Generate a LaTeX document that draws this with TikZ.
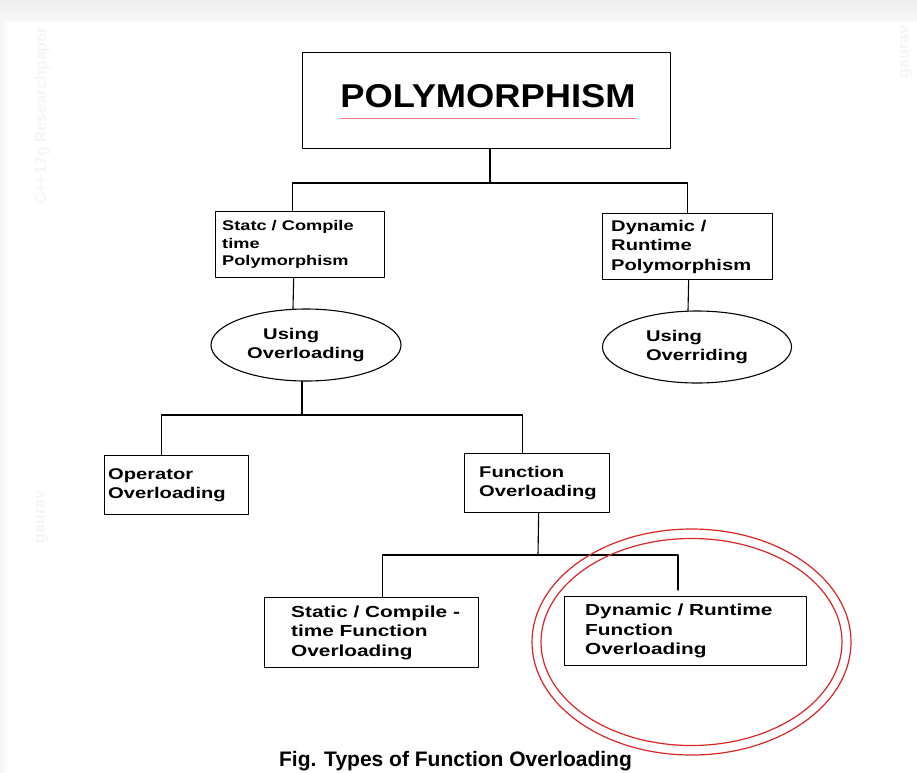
\documentclass[tikz,border=0pt]{standalone}
\usepackage{fontspec}
\setmainfont{Liberation Sans}
\newfontfamily\widesans[FakeStretch=1.3]{Liberation Sans}
\newfontfamily\titlesans[FakeStretch=1.1]{Liberation Sans}
\usetikzlibrary{shapes.geometric}
\definecolor{markred}{RGB}{214,38,38}
\definecolor{rulepink}{RGB}{240,120,120}

\begin{document}
\begin{tikzpicture}[
  x=1pt,y=-1pt,
  box/.style={draw,line width=1.3pt,inner sep=0pt,anchor=north west},
  txt/.style={anchor=west,align=left,inner sep=0pt,
    font=\widesans\bfseries\fontsize{15.5}{19.5}\selectfont},
  oval/.style={draw,ellipse,line width=1.1pt,inner sep=0pt,align=left,
    font=\widesans\bfseries\fontsize{15.5}{19}\selectfont},
  link/.style={line width=1.1pt},
  watermark/.style={rotate=90,inner sep=0pt,text=gray!8,
    font=\bfseries\fontsize{16}{16}\selectfont},
  every path/.style={line cap=round,line join=round}
]
  \useasboundingbox (0,0) rectangle (917,772);
  \fill[white] (0,0) rectangle (917,772);
  \shade[top color=gray!14,bottom color=gray!5] (0,0) rectangle (917,21);
  \shade[left color=gray!9,right color=white] (0,21) rectangle (9,772);

  % faint watermarks
  \node[watermark] (wm-left) at (42,116) {C++17g Researchpaper};
  \node[watermark] (wm-right) at (906,52) {gaurav};
  \node[watermark] (wm-mid) at (42,517) {gaurav};

  % root
  \node[box,minimum width=368pt,minimum height=96pt] (poly) at (302,52) {};
  \node[inner sep=0pt,anchor=base,
    font=\titlesans\bfseries\fontsize{33}{36}\selectfont] (poly-txt)
    at (488,107) {POLYMORPHISM};
  \draw[rulepink,line width=0.9pt] ([yshift=-11pt]poly-txt.base west)
    -- ([yshift=-11pt]poly-txt.base east);

  % second level
  \node[box,minimum width=169pt,minimum height=66pt] (statc) at (215,211) {};
  \node[txt,font=\widesans\bfseries\fontsize{14}{17.5}\selectfont] (statc-txt)
    at ([xshift=7pt]statc.west) {Statc / Compile\\time\\Polymorphism};
  \node[box,minimum width=170pt,minimum height=66pt] (dynrt) at (602,213) {};
  \node[txt] (dynrt-txt) at ([xshift=9pt]dynrt.west)
    {Dynamic /\\Runtime\\Polymorphism};

  \node[oval,minimum width=190pt,minimum height=72pt] (use-ovl) at (306,345)
    {\hspace*{16pt}Using\\Overloading};
  \node[oval,minimum width=189pt,minimum height=72pt] (use-ovr) at (697,347)
    {Using\\Overriding};

  % third level
  \node[box,minimum width=144pt,minimum height=59pt] (oper) at (104,455) {};
  \node[txt] (oper-txt) at ([xshift=4pt]oper.west) {Operator\\Overloading};
  \node[box,minimum width=145pt,minimum height=59pt] (func) at (464,453) {};
  \node[txt] (func-txt) at ([xshift=15pt]func.west) {Function\\Overloading};

  % fourth level
  \node[box,minimum width=214pt,minimum height=70pt] (statfo) at (264,597) {};
  \node[txt,font=\widesans\bfseries\fontsize{16}{19.5}\selectfont] (statfo-txt)
    at ([xshift=27pt]statfo.west)
    {Static / Compile -\\time Function\\Overloading};
  \node[box,minimum width=242pt,minimum height=69pt] (dynfo) at (564,596) {};
  \node[txt,font=\widesans\bfseries\fontsize{16}{19.5}\selectfont] (dynfo-txt)
    at ([xshift=21pt]dynfo.west)
    {Dynamic / Runtime\\Function\\Overloading};

  % tree connectors
  \coordinate (bus-top) at (490,183);
  \coordinate (bus-mid) at (302,415);
  \coordinate (bus-low) at (538,555);
  \coordinate (drop-end) at (678,590);
  \draw[link] (poly.south -| bus-top) -- (bus-top);
  \draw[link] ([xshift=-7.5pt]statc.north) |- (bus-top) -| (dynrt.north);
  \draw[link] ([xshift=-6.5pt]statc.south) -- ([xshift=-13pt]use-ovl.north);
  \draw[link] ([xshift=1pt]dynrt.south) -- ([xshift=-9pt]use-ovr.north);
  \draw[link] (use-ovl.south -| bus-mid) -- (bus-mid);
  \draw[link] ([xshift=-15pt]oper.north) |- (bus-mid) -| ([xshift=-14.5pt]func.north);
  \draw[link] ([xshift=1.5pt]func.south) -- (bus-low);
  \draw[link] ([xshift=11pt]statfo.north) |- (bus-low) -| (drop-end);

  % red highlight
  \draw[markred,line width=1.2pt] (691.5,642) ellipse [x radius=159.5, y radius=113];
  \draw[markred,line width=1.2pt] (691.5,642) ellipse [x radius=150.5, y radius=103.5];

  \node[anchor=base,inner sep=0pt,font=\bfseries\fontsize{21}{24}\selectfont]
    (caption) at (455.5,766) {Fig. Types of Function Overloading};
\end{tikzpicture}
\end{document}
